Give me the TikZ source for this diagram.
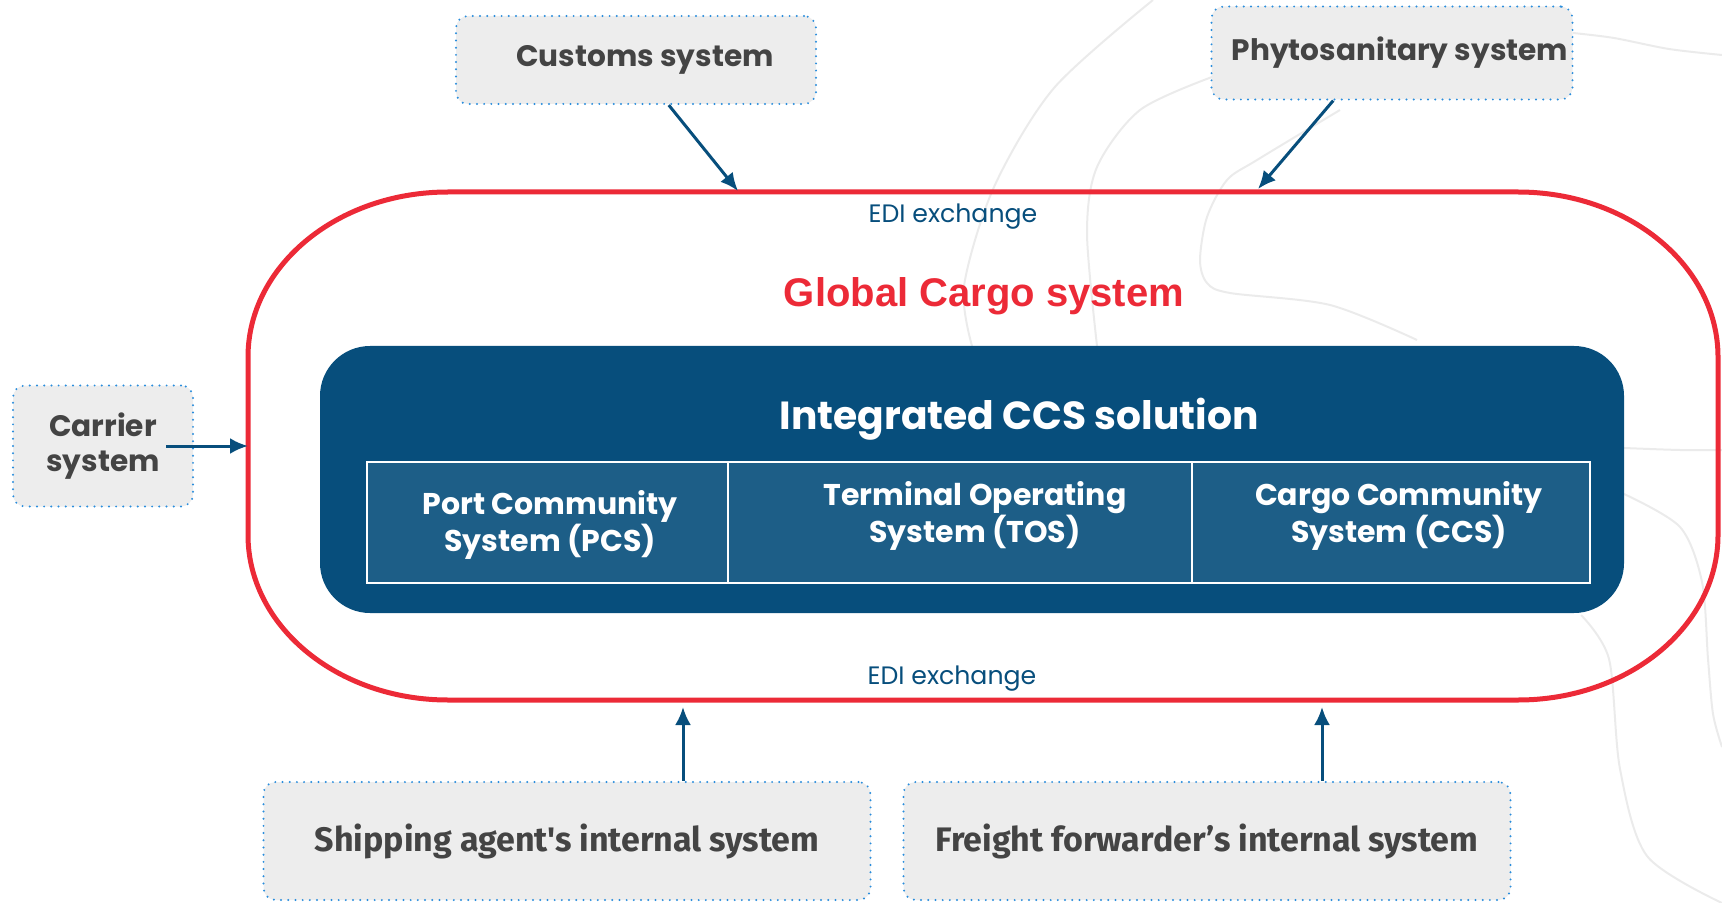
\documentclass[tikz,border=0pt]{standalone}
\usepackage{fontspec}
\setmainfont{Poppins}
\newfontfamily\arialfont{Liberation Sans}
\newfontfamily\firafont{Fira Sans}
\usetikzlibrary{arrows.meta}
\definecolor{ccsblue}{HTML}{074E7C}
\definecolor{cellblue}{HTML}{1D5E87}
\definecolor{gcred}{HTML}{EC2A37}
\definecolor{boxgray}{HTML}{EDEDED}
\definecolor{dotblue}{HTML}{2A8DDC}
\definecolor{txtgray}{HTML}{444444}
\definecolor{mapgray}{HTML}{EBEBEB}
\tikzset{
  ext/.style={draw=dotblue, fill=boxgray, line width=1.1pt, dash pattern=on 0pt off 3.6pt,
    line cap=round, rounded corners=6pt, text=txtgray, align=center, inner sep=0pt,
    font=\bfseries\fontsize{14.8}{17.5}\selectfont},
  cell/.style={draw=white, fill=cellblue, line width=1pt, minimum height=60.5pt, inner sep=0pt},
  celltxt/.style={text=white, align=center, inner sep=0pt, font=\bfseries\fontsize{15}{16}\selectfont},
  edi/.style={text=ccsblue, font=\fontsize{12.6}{15}\selectfont},
  feed/.style={->, draw=ccsblue, line width=1.5pt},
  mapline/.style={draw=mapgray, line width=1pt},
}
\begin{document}
\begin{tikzpicture}[x=0.5pt, y=0.5pt, >={Latex[length=9pt,width=8pt]}]
\useasboundingbox (0,0) rectangle (1722,-903);
% map in the background
\draw[mapline] plot[smooth] coordinates {(1153,0) (1054,-88) (994,-187) (964,-286) (972,-346)};
\draw[mapline] plot[smooth] coordinates {(1212,-77) (1140,-110) (1097,-167) (1087,-233) (1097,-346)};
\draw[mapline] plot[smooth] coordinates {(1340,-110) (1257,-160) (1227,-180) (1207,-217) (1200,-260) (1207,-283) (1230,-293) (1330,-305) (1417,-340)};
\draw[mapline] plot[smooth] coordinates {(1573,-33) (1614,-38) (1669,-49) (1722,-55)};
\draw[mapline] plot[smooth] coordinates {(1624,-448) (1680,-450) (1722,-450)};
\draw[mapline] plot[smooth] coordinates {(1624,-494) (1680,-527) (1702,-582) (1708,-659) (1713,-714) (1722,-747)};
\draw[mapline] plot[smooth] coordinates {(1581,-615) (1609,-659) (1620,-769) (1647,-856) (1722,-903)};
%
\draw[gcred, line width=2.5pt] (448,-192) -- (1518,-192)
  arc[start angle=90, end angle=0, x radius=100pt, y radius=82.5pt] -- (1718,-535)
  arc[start angle=0, end angle=-90, x radius=100pt, y radius=82.5pt] -- (448,-700)
  arc[start angle=270, end angle=180, x radius=100pt, y radius=82.5pt] -- (248,-357)
  arc[start angle=180, end angle=90, x radius=100pt, y radius=82.5pt] -- cycle;
\node[text=gcred, font=\arialfont\bfseries\fontsize{20}{24}\selectfont] (gcs) at (984,-296) {Global Cargo system};
\node[edi] (edi-top) at (953,-217) {EDI exchange};
\node[edi] (edi-bot) at (952,-679) {EDI exchange};
%
\node[fill=ccsblue, rounded corners=25pt, minimum width=652pt, minimum height=133.5pt] (ccsbg) at (972,-479.5) {};
\node[text=white, font=\bfseries\fontsize{19.6}{23}\selectfont] (ccs) at (1019,-419) {Integrated CCS solution};
\node[cell, minimum width=180.5pt] (pcs) at (547.5,-522.5) {};
\node[cell, minimum width=232pt] (tos) at (960,-522.5) {};
\node[cell, minimum width=199pt] (ccsc) at (1391,-522.5) {};
\node[celltxt] (pcs-t) at (550,-525) {Port Community\\System (PCS)};
\node[celltxt] (tos-t) at (975,-516) {Terminal Operating\\System (TOS)};
\node[celltxt] (ccsc-t) at (1399,-516) {Cargo Community\\System (CCS)};
%
\node[ext, minimum width=180pt, minimum height=44pt] (customs) at (636,-60) {\hspace*{9pt}Customs system};
\coordinate (gc-n1) at (738,-191);
\draw[feed](customs.-54) -- (gc-n1) {};
%
\node[ext, minimum width=180.5pt, minimum height=46.5pt] (phyto) at (1392,-53) {\hspace*{8pt}Phytosanitary system};
\coordinate (gc-n2) at (1258,-189);
\draw[feed](phyto.-141) -- (gc-n2) {};
%
\node[ext, minimum width=90pt, minimum height=60.5pt] (carrier) at (103,-446) {Carrier\\system};
\coordinate (gc-w) at (248,-446);
\draw[feed]([xshift=-14pt]carrier.east) -- (gc-w) {};
%
\node[ext, minimum width=303.5pt, minimum height=59pt, font=\firafont\bfseries\fontsize{17}{20}\selectfont] (shipping) at (567,-841) {Shipping agent's internal system};
\coordinate (gc-s1) at (683,-707);
\draw[feed](shipping.north -| gc-s1) -- (gc-s1) {};
%
\node[ext, minimum width=303.5pt, minimum height=59pt, font=\firafont\bfseries\fontsize{17}{20}\selectfont] (freight) at (1207,-841) {Freight forwarder’s internal system};
\coordinate (gc-s2) at (1322,-707);
\draw[feed](freight.north -| gc-s2) -- (gc-s2) {};
\end{tikzpicture}
\end{document}
